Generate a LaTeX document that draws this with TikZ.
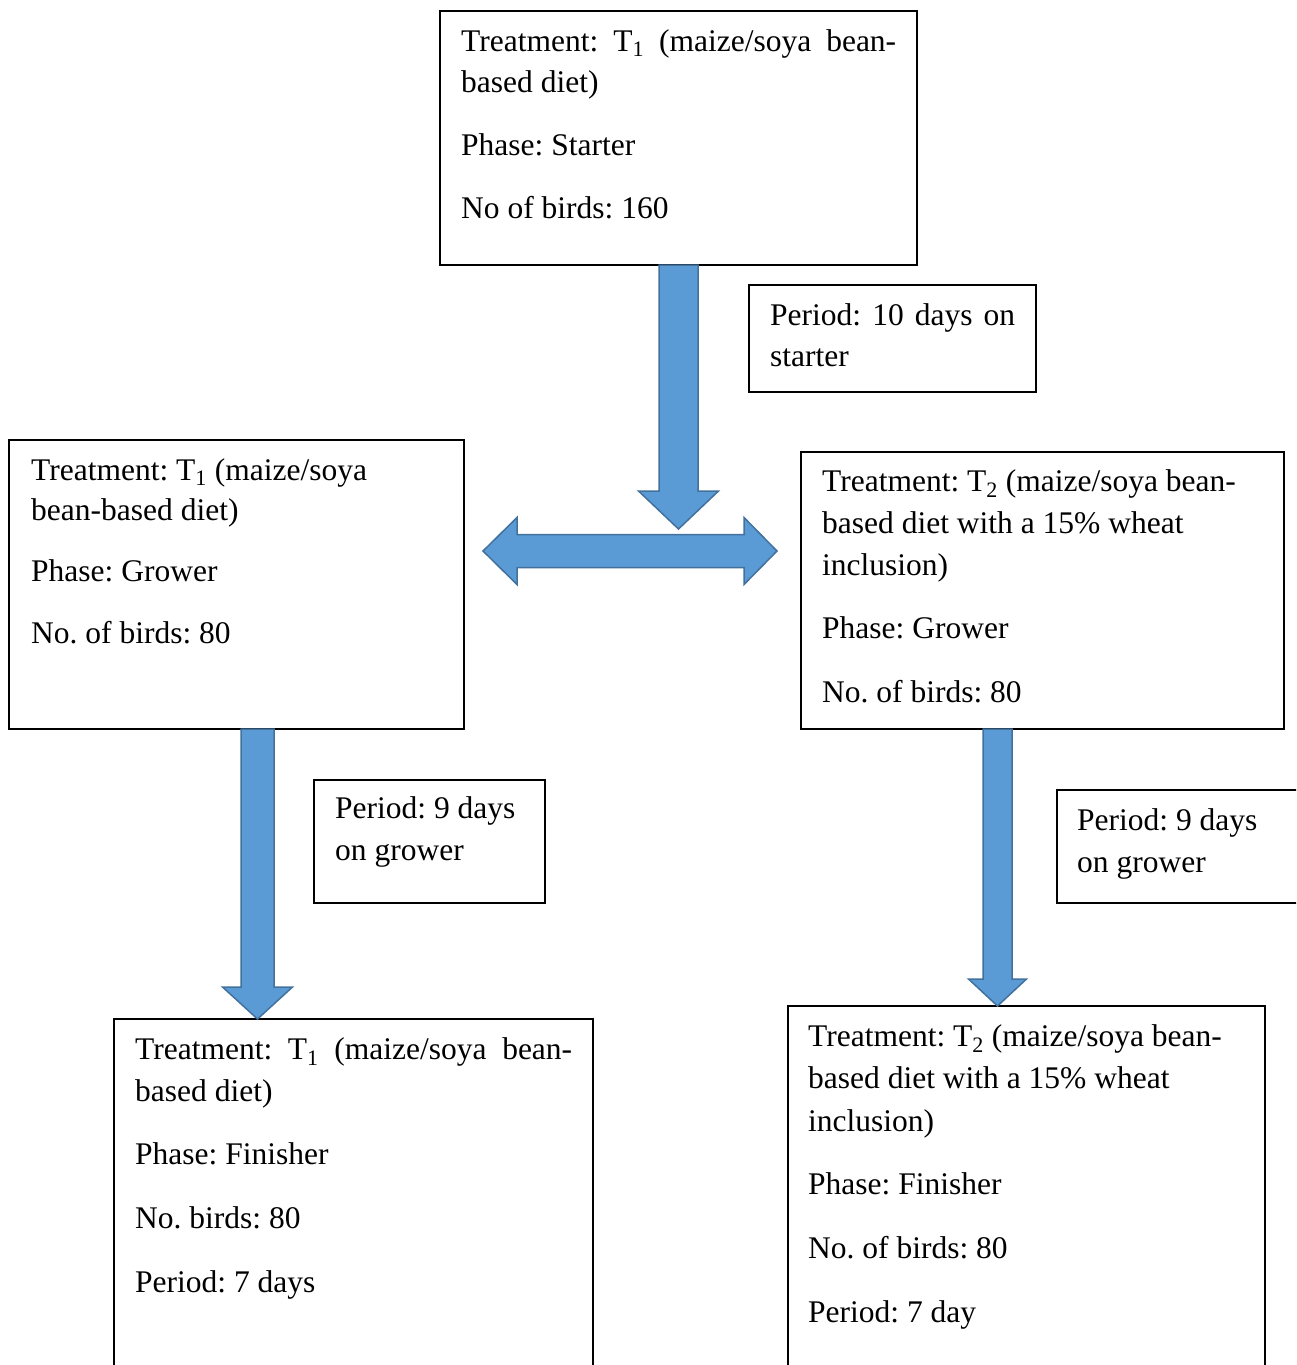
\documentclass[tikz,border=0pt]{standalone}
\usepackage{fontspec}
\setmainfont{Liberation Serif}
\usetikzlibrary{calc}
\definecolor{arrowfill}{HTML}{5B9BD5}
\definecolor{arrowedge}{HTML}{41719C}
\frenchspacing
\newcommand{\Ln}[1]{\hbox{#1}}
\newcommand{\Jn}[2]{\hbox to #1{\spaceskip=.25em plus 1fil\xspaceskip=.25em plus 1fil\relax #2}}
\newcommand{\Gap}[1]{\vskip #1\relax}
\newcommand{\Stack}[2]{\vtop{\baselineskip=#1\lineskiplimit=-1000pt\lineskip=0pt\relax #2}}
\newcommand{\BlkDown}[5]{%
  \draw[blockarrow] ($#1+(-#3,0)$) -- ($#1+(#3,0)$) -- ($#2+(#3,-#5)$) -- ($#2+(#4,-#5)$) -- #2
    -- ($#2+(-#4,-#5)$) -- ($#2+(-#3,-#5)$) -- cycle;}
\tikzset{
  mainbox/.style={draw=black, line width=2pt, inner sep=0pt, outer sep=0pt, anchor=north west},
  periodbox/.style={draw=black, line width=1.5pt, inner sep=0pt, outer sep=0pt, anchor=north west},
  txt/.style={inner sep=0pt, anchor=base west, font=\fontsize{31.5}{41.5}\selectfont\frenchspacing},
  blockarrow/.style={fill=arrowfill, draw=arrowedge, line width=1.5pt, line join=miter},
}
\begin{document}
\begin{tikzpicture}[x=1pt,y=-1pt]
\useasboundingbox (0,0) rectangle (1296,1365);
\clip (0,0) rectangle (1296,1365);
\fill[white] (0,0) rectangle (1296,1365);

% boxes
\node[mainbox, minimum width=477pt, minimum height=254pt] (A) at (440,11) {};
\node[periodbox, minimum width=287pt, minimum height=107pt] (P1) at (749,285) {};
\node[mainbox, minimum width=455pt, minimum height=289pt] (B) at (9,440) {};
\node[mainbox, minimum width=483pt, minimum height=277pt] (C) at (801,452) {};
\node[periodbox, minimum width=231pt, minimum height=123pt] (P2) at (314,780) {};
\node[mainbox, minimum width=479pt, minimum height=381pt] (D) at (114,1019) {};
\node[periodbox, minimum width=273pt, minimum height=113pt] (P3) at (1057,790) {};
\node[mainbox, minimum width=477pt, minimum height=394pt] (E) at (788,1006) {};

% texts
\node[txt] (tA) at ($(A.north west)+(21,40)$) {\Stack{41.5pt}{%
  \Jn{435pt}{Treatment: T\textsubscript{1} (maize/soya bean-}%
  \Ln{based diet)}\Gap{21.5pt}%
  \Ln{Phase: Starter}\Gap{21.5pt}%
  \Ln{No of birds: 160}}};
\node[txt] (tP1) at ($(P1.north west)+(21,40)$) {\Stack{41.5pt}{%
  \Jn{245pt}{Period: 10 days on}%
  \Ln{starter}}};
\node[txt] (tB) at ($(B.north west)+(22,40)$) {\Stack{40pt}{%
  \Ln{Treatment: T\textsubscript{1} (maize/soya}%
  \Ln{bean-based diet)}\Gap{21.5pt}%
  \Ln{Phase: Grower}\Gap{21.5pt}%
  \Ln{No. of birds: 80}}};
\node[txt] (tC) at ($(C.north west)+(21,39)$) {\Stack{42pt}{%
  \Ln{Treatment: T\textsubscript{2} (maize/soya bean-}%
  \Ln{based diet with a 15\% wheat}%
  \Ln{inclusion)}\Gap{21.5pt}%
  \Ln{Phase: Grower}\Gap{21.5pt}%
  \Ln{No. of birds: 80}}};
\node[txt] (tP2) at ($(P2.north west)+(21,38)$) {\Stack{42pt}{%
  \Ln{Period: 9 days}%
  \Ln{on grower}}};
\node[txt] (tD) at ($(D.north west)+(21,40)$) {\Stack{42pt}{%
  \Jn{437pt}{Treatment: T\textsubscript{1} (maize/soya bean-}%
  \Ln{based diet)}\Gap{21.5pt}%
  \Ln{Phase: Finisher}\Gap{22pt}%
  \Ln{No. birds: 80}\Gap{22pt}%
  \Ln{Period: 7 days}}};
\node[txt] (tP3) at ($(P3.north west)+(20,40)$) {\Stack{42pt}{%
  \Ln{Period: 9 days}%
  \Ln{on grower}}};
\node[txt] (tE) at ($(E.north west)+(20,40)$) {\Stack{42.5pt}{%
  \Ln{Treatment: T\textsubscript{2} (maize/soya bean-}%
  \Ln{based diet with a 15\% wheat}%
  \Ln{inclusion)}\Gap{21pt}%
  \Ln{Phase: Finisher}\Gap{21.5pt}%
  \Ln{No. of birds: 80}\Gap{21.5pt}%
  \Ln{Period: 7 day}}};

% arrow geometry
\coordinate (a1tip) at (678.5,529);
\coordinate (hl) at (483,551);
\coordinate (hr) at (777,551);
\coordinate (x2) at (257.5,0);
\coordinate (x3) at (997.5,0);

% down arrow from starter box
\BlkDown{(A.south)}{(a1tip)}{19.5}{40}{38}

% double horizontal arrow
\draw[blockarrow] (hl) -- ($(hl)+(34,-33.5)$) -- ($(hl)+(34,-16.5)$) -- ($(hr)+(-33,-16.5)$)
  -- ($(hr)+(-33,-33.5)$) -- (hr) -- ($(hr)+(-33,33.5)$) -- ($(hr)+(-33,16.5)$)
  -- ($(hl)+(34,16.5)$) -- ($(hl)+(34,33.5)$) -- cycle;

% grower to finisher arrows
\BlkDown{(x2 |- B.south)}{(x2 |- D.north)}{16.5}{35}{32}
\BlkDown{(x3 |- C.south)}{(x3 |- E.north)}{14.5}{29}{27}
\end{tikzpicture}
\end{document}
